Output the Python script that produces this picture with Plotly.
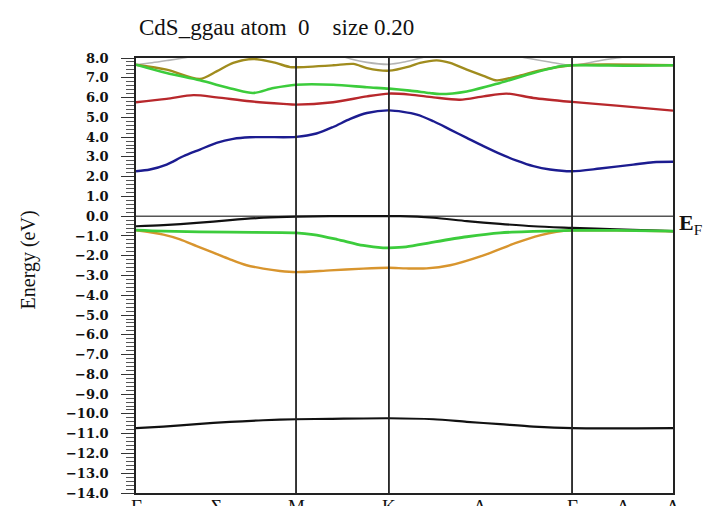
import plotly.graph_objects as go

# ---------------- data ----------------
# special k-points along the path (fraction of total path length)
kpt_names = ["Γ", "M", "K", "Γ", "A"]
kpt_pos = [0.0, 0.298, 0.471, 0.812, 1.0]
mid_names = ["Σ", "Λ", "Δ"]          # labels between Γ-M, K-Γ, Γ-A

title_text = "CdS_ggau atom\u00a0\u00a00\u00a0\u00a0\u00a0\u00a0size 0.20"
y_title = "Energy (eV)"

# conduction bands
k_grey = [0, 0.03, 0.06, 0.088, 0.12, 0.2, 0.3, 0.37, 0.40, 0.43, 0.471, 0.50, 0.53, 0.56, 0.65, 0.727, 0.77, 0.812, 0.86, 0.895, 0.95, 1.0]
e_grey = [7.66, 7.76, 7.88, 8.0, 8.15, 8.4, 8.4, 8.2, 7.95, 7.78, 7.68, 7.80, 8.0, 8.2, 8.4, 8.0, 7.8, 7.63, 7.85, 8.0, 8.2, 8.3]

k_olive = [0, 0.057, 0.119, 0.150, 0.181, 0.218, 0.256, 0.287, 0.298, 0.367, 0.405, 0.430, 0.471, 0.510, 0.529, 0.560, 0.585, 0.616, 0.647, 0.672, 0.709, 0.752, 0.812, 1.0]
e_olive = [7.66, 7.41, 6.94, 7.32, 7.75, 7.95, 7.78, 7.54, 7.53, 7.63, 7.70, 7.49, 7.36, 7.58, 7.75, 7.88, 7.75, 7.41, 7.10, 6.87, 7.07, 7.37, 7.63, 7.63]

k_green_c = [0, 0.057, 0.119, 0.181, 0.218, 0.256, 0.298, 0.367, 0.430, 0.471, 0.510, 0.547, 0.566, 0.616, 0.678, 0.740, 0.790, 0.812, 0.926, 1.0]
e_green_c = [7.66, 7.24, 6.87, 6.43, 6.23, 6.48, 6.65, 6.65, 6.52, 6.45, 6.35, 6.23, 6.18, 6.31, 6.74, 7.24, 7.58, 7.63, 7.61, 7.63]

k_red = [0, 0.057, 0.107, 0.150, 0.212, 0.274, 0.298, 0.367, 0.430, 0.471, 0.510, 0.554, 0.603, 0.647, 0.690, 0.740, 0.812, 0.895, 1.0]
e_red = [5.76, 5.93, 6.12, 6.01, 5.81, 5.68, 5.64, 5.76, 6.06, 6.20, 6.15, 6.01, 5.89, 6.06, 6.20, 5.98, 5.78, 5.59, 5.34]

k_blue = [0, 0.026, 0.057, 0.088, 0.119, 0.150, 0.181, 0.212, 0.243, 0.298, 0.336, 0.367, 0.399, 0.430, 0.471, 0.523, 0.554, 0.585, 0.616, 0.647, 0.678, 0.709, 0.740, 0.771, 0.812, 0.864, 0.926, 0.963, 1.0]
e_blue = [2.27, 2.36, 2.61, 3.03, 3.37, 3.71, 3.91, 3.99, 4.0, 4.01, 4.18, 4.51, 4.92, 5.22, 5.35, 5.14, 4.80, 4.38, 3.96, 3.54, 3.15, 2.81, 2.53, 2.36, 2.27, 2.41, 2.61, 2.73, 2.75]

# valence bands
k_black_v = [0, 0.051, 0.113, 0.175, 0.237, 0.298, 0.361, 0.423, 0.471, 0.492, 0.554, 0.616, 0.678, 0.740, 0.812, 0.895, 1.0]
e_black_v = [-0.51, -0.45, -0.34, -0.20, -0.08, -0.02, 0.0, 0.0, 0.0, 0.0, -0.08, -0.25, -0.39, -0.51, -0.59, -0.67, -0.76]

k_green_v = [0, 0.051, 0.175, 0.298, 0.330, 0.374, 0.423, 0.460, 0.471, 0.503, 0.554, 0.616, 0.678, 0.740, 0.812, 0.895, 1.0]
e_green_v = [-0.71, -0.76, -0.81, -0.84, -0.93, -1.17, -1.48, -1.60, -1.60, -1.55, -1.31, -1.04, -0.84, -0.77, -0.72, -0.72, -0.76]

k_orange = [0, 0.051, 0.082, 0.113, 0.144, 0.175, 0.206, 0.237, 0.268, 0.298, 0.361, 0.423, 0.471, 0.503, 0.541, 0.585, 0.647, 0.709, 0.752, 0.783, 0.812, 0.895, 1.0]
e_orange = [-0.71, -0.93, -1.17, -1.51, -1.84, -2.18, -2.48, -2.65, -2.77, -2.83, -2.74, -2.65, -2.61, -2.64, -2.64, -2.48, -1.98, -1.34, -0.97, -0.79, -0.72, -0.72, -0.76]

k_deep = [0, 0.051, 0.113, 0.175, 0.237, 0.298, 0.361, 0.471, 0.554, 0.616, 0.678, 0.740, 0.812, 1.0]
e_deep = [-10.72, -10.64, -10.52, -10.40, -10.32, -10.27, -10.25, -10.22, -10.27, -10.40, -10.52, -10.64, -10.72, -10.72]

y_min, y_max = -14.0, 8.0

# ---------------- figure ----------------
bands = [
    (k_grey, e_grey, "#b4b4b4", 1.6),
    (k_olive, e_olive, "#a08c1e", 2.4),
    (k_green_c, e_green_c, "#3ccc3c", 2.6),
    (k_red, e_red, "#b8282c", 2.4),
    (k_blue, e_blue, "#1c1c90", 2.4),
    (k_deep, e_deep, "#111111", 2.2),
    (k_orange, e_orange, "#d8952e", 2.4),
    (k_black_v, e_black_v, "#111111", 2.2),
    (k_green_v, e_green_v, "#3ccc3c", 2.8),
]

fig = go.Figure()
for kk, ee, col, w in bands:
    fig.add_trace(go.Scatter(x=kk, y=ee, mode="lines",
                             line=dict(color=col, width=w, shape="spline", smoothing=0.8),
                             showlegend=False, hoverinfo="skip"))

# vertical lines at interior special points
for kp in kpt_pos[1:-1]:
    fig.add_shape(type="line", xref="x", yref="y", x0=kp, x1=kp, y0=y_min, y1=y_max,
                  line=dict(color="#222222", width=1.8), layer="above")
# Fermi level
fig.add_shape(type="line", xref="x", yref="y", x0=kpt_pos[0], x1=kpt_pos[-1], y0=0, y1=0,
              line=dict(color="#555555", width=1.5), layer="below")

# labels along the path (special points + midpoints), drawn just under the axis
tick_vals = [kpt_pos[0], (kpt_pos[0] + kpt_pos[1]) / 2, kpt_pos[1], kpt_pos[2],
             (kpt_pos[2] + kpt_pos[3]) / 2, kpt_pos[3], (kpt_pos[3] + kpt_pos[4]) / 2, kpt_pos[4]]
tick_text = [kpt_names[0], mid_names[0], kpt_names[1], kpt_names[2],
             mid_names[1], kpt_names[3], mid_names[2], kpt_names[4]]

annotations = [
    dict(text=title_text, xref="paper", yref="paper", x=0.262, y=1.07,
         xanchor="center", yanchor="middle", showarrow=False,
         font=dict(family="Liberation Serif", size=23, color="#111111")),
    dict(text=y_title, xref="paper", yref="paper", x=-0.2, y=0.536, textangle=-90,
         xanchor="center", yanchor="middle", showarrow=False,
         font=dict(family="Liberation Serif", size=20, color="#111111")),
    dict(text="<b>E</b><sub>F</sub>", xref="paper", yref="y", x=1.008, y=0,
         xanchor="left", yanchor="middle", yshift=-8, showarrow=False,
         font=dict(family="Liberation Serif", size=22, color="#111111")),
]
for tv, tt in zip(tick_vals, tick_text):
    annotations.append(dict(text=tt, xref="x", yref="paper", x=tv, y=0,
                            xanchor="center", yanchor="top", yshift=-1, showarrow=False,
                            font=dict(family="Liberation Serif", size=19, color="#111111")))

# the page adds an 8 px body margin, so the figure is 8 px smaller on each side
fig.update_layout(
    width=705, height=498,
    margin=dict(l=128, r=40, t=50, b=13),
    paper_bgcolor="white", plot_bgcolor="white",
    showlegend=False,
    xaxis=dict(range=[kpt_pos[0], kpt_pos[-1]], showticklabels=False,
               ticks="", showgrid=False, zeroline=False, showline=True, mirror=True,
               linecolor="#222222", linewidth=1.8, automargin=False),
    yaxis=dict(range=[y_min, y_max], dtick=1, tick0=0, tickformat=".1f",
               ticks="outside", ticklen=13, tickwidth=1.3, tickcolor="#333333",
               minor=dict(dtick=0.2, ticks="outside", ticklen=8, tickwidth=1, tickcolor="#555555"),
               showgrid=False, zeroline=False, showline=True, mirror=True,
               linecolor="#222222", linewidth=1.8, automargin=False, ticklabelstandoff=10,
               tickfont=dict(family="DejaVu Serif", size=13, color="#111111", weight="bold")),
    annotations=annotations,
)

fig.write_html("out.html")
